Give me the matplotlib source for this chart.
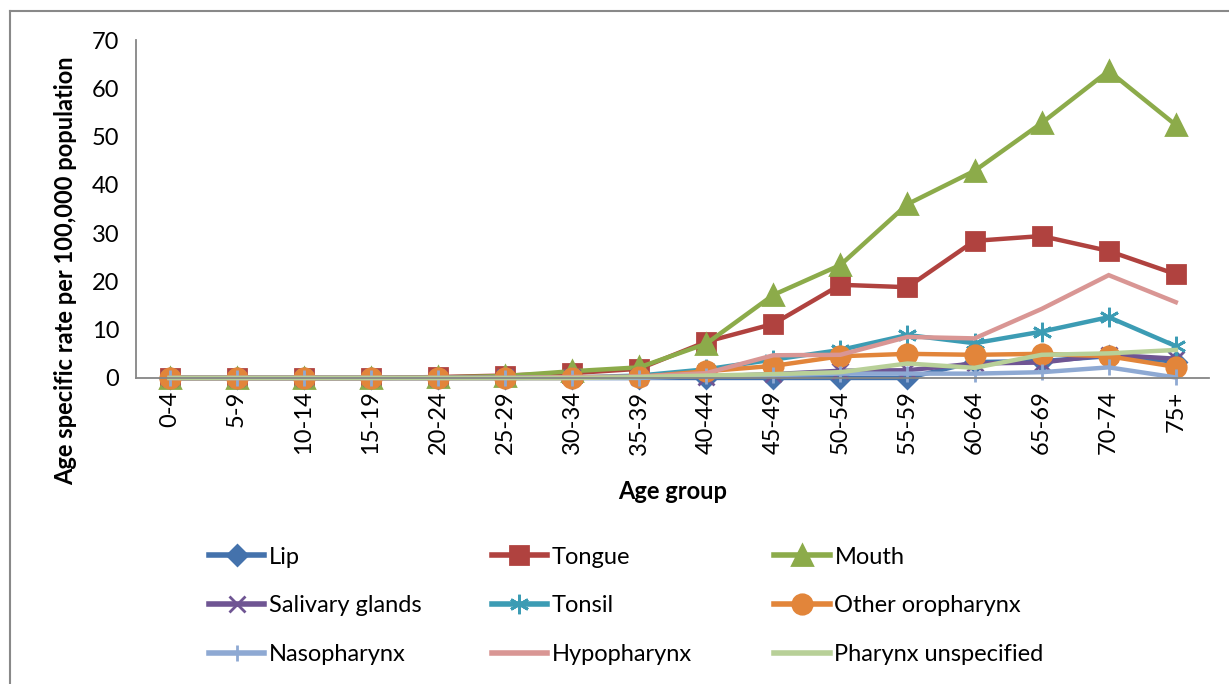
import numpy as np
import matplotlib
matplotlib.use("Agg")
import matplotlib.pyplot as plt
from matplotlib.lines import Line2D

plt.rcParams['font.family'] = ['Lato', 'DejaVu Sans']

age_groups = ['0-4', '5-9', '10-14', '15-19', '20-24', '25-29', '30-34', '35-39',
              '40-44', '45-49', '50-54', '55-59', '60-64', '65-69', '70-74', '75+']

lip = [0, 0, 0, 0, 0, 0, 0, 0, 0, 0, 0, 0, 3.3, 3.5, 4.5, 3.4]
tongue = [0, 0, 0, 0, 0.2, 0.5, 1.0, 1.9, 7.5, 11.2, 19.3, 18.8, 28.4, 29.4, 26.3, 21.5]
mouth = [0, 0, 0, 0, 0.1, 0.4, 1.4, 2.2, 7.1, 17.2, 23.4, 36.0, 42.9, 52.8, 63.6, 52.4]
salivary = [0, 0, 0, 0, 0, 0.1, 0.1, 0.2, 0.3, 0.8, 1.5, 1.6, 3.0, 3.2, 4.8, 4.0]
tonsil = [0, 0, 0, 0, 0, 0, 0.1, 0.5, 1.8, 3.8, 5.8, 8.9, 7.2, 9.6, 12.6, 6.6]
other_oro = [0, 0, 0, 0, 0, 0, 0, 0.2, 1.4, 2.5, 4.5, 5.0, 4.8, 5.0, 4.5, 2.3]
naso = [0, 0, 0, 0, 0, 0, 0, 0, 0.4, 0.6, 0.9, 0.9, 0.9, 1.2, 2.2, 0.1]
hypo = [0, 0, 0, 0, 0, 0, 0.2, 0.3, 1.0, 4.7, 4.8, 8.5, 8.2, 14.3, 21.3, 15.7]
pharynx_unsp = [0, 0, 0, 0, 0, 0, 0, 0.2, 0.5, 0.8, 1.2, 3.0, 2.1, 4.8, 5.1, 5.8]

series = [
    ('Lip', lip, '#4472ac', 'D', 10),
    ('Tongue', tongue, '#b0423f', 's', 13),
    ('Mouth', mouth, '#8cab4a', '^', 14),
    ('Salivary glands', salivary, '#6f5593', 'x', 12),
    ('Tonsil', tonsil, '#3c9cb4', (6, 2, 0), 14),
    ('Other oropharynx', other_oro, '#e2853a', 'o', 14),
    ('Nasopharynx', naso, '#8ea9d3', '|', 12),
    ('Hypopharynx', hypo, '#d99694', None, 0),
    ('Pharynx unspecified', pharynx_unsp, '#b8d098', None, 0),
]

FS = 17

fig = plt.figure(figsize=(12.29, 6.84), dpi=100)
ax = fig.add_axes([0.1107, 0.4474, 0.8733, 0.4941])

x = np.arange(len(age_groups))
handles = []
for name, vals, col, mk, ms in series:
    h, = ax.plot(x, vals, color=col, lw=3.2, marker=mk, markersize=ms,
                 markeredgecolor=col, markerfacecolor=col, markeredgewidth=2,
                 label=name, clip_on=False, solid_joinstyle='miter')
    handles.append(h)

ax.set_xlim(-0.5, len(age_groups) - 0.5)
ax.set_ylim(0, 70)
ax.set_yticks(range(0, 71, 10))
ax.set_xticks(x)
ax.set_xticklabels(age_groups, rotation=90)
ax.tick_params(length=0, labelsize=FS, colors='black')
ax.tick_params(axis='y', pad=12)
ax.tick_params(axis='x', pad=9)
for s in ['top', 'right']:
    ax.spines[s].set_visible(False)
for s in ['left', 'bottom']:
    ax.spines[s].set_color('#868686')
    ax.spines[s].set_linewidth(1.3)

ax.set_ylabel('Age specific rate per 100,000 population', fontsize=FS, fontweight='bold')
ax.yaxis.set_label_coords(-0.055, 0.317)
ax.set_xlabel('Age group', fontsize=FS, fontweight='bold', labelpad=18)

# legend in three fixed-width columns, like Excel
col_x = [0.170, 0.400, 0.630]
for c in range(3):
    hs = handles[c::3]
    leg = fig.legend(handles=hs, loc='upper left', bbox_to_anchor=(col_x[c], 0.201),
                     frameon=False, fontsize=FS, handlelength=2.35, handletextpad=0.2,
                     labelspacing=1.17, borderaxespad=0, borderpad=0)
    for lh in leg.legend_handles:
        lh.set_linewidth(4)

# outer chart border (only top and left visible in crop)
fig.add_artist(Line2D([10 / 1229, 1], [1 - 11 / 684, 1 - 11 / 684], color='#898989', lw=1.5))
fig.add_artist(Line2D([10 / 1229, 10 / 1229], [0, 1 - 11 / 684], color='#898989', lw=1.5))

fig.savefig('out.png', dpi=100)
